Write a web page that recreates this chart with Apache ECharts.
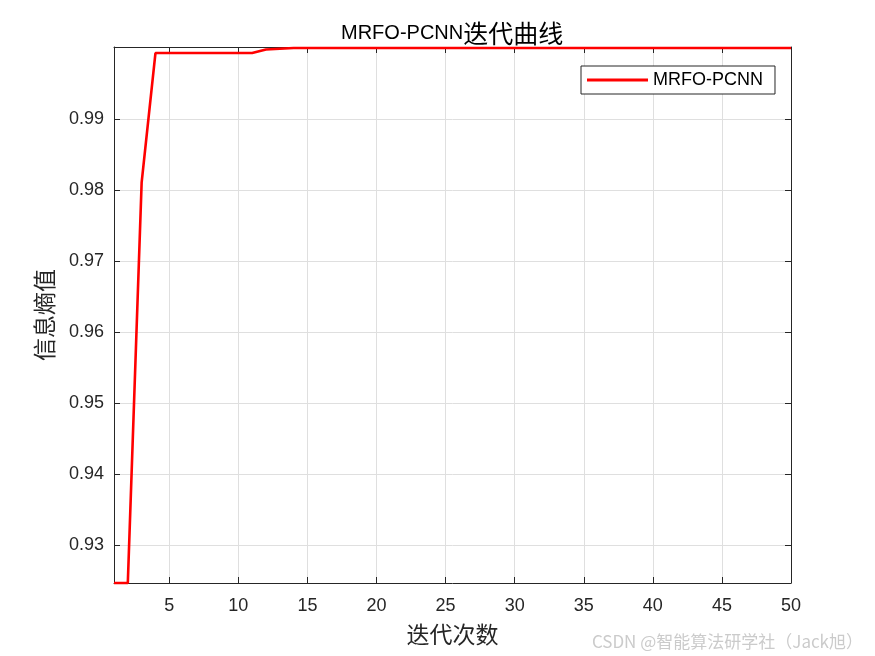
<!DOCTYPE html>
<html>
<head>
<meta charset="utf-8">
<script src="https://cdn.jsdelivr.net/npm/echarts@6/dist/echarts.min.js"></script>
<style>
  html, body { margin: 0; padding: 0; background: #fff; }
  #main { width: 875px; height: 656px; }
</style>
</head>
<body>
<div id="main"></div>
<script>
// 迭代次数 1..50
var iterations = [];
for (var i = 1; i <= 50; i++) iterations.push(i);

// 信息熵值，读自原图
var entropy = [
  0.92465, 0.92465, 0.9810, 0.99925, 0.99925, 0.99925, 0.99925, 0.99925, 0.99925, 0.99925,
  0.99925, 0.99975, 0.99986, 0.99996, 0.99996, 0.99996, 0.99996, 0.99996, 0.99996, 0.99996,
  0.99996, 0.99996, 0.99996, 0.99996, 0.99996, 0.99996, 0.99996, 0.99996, 0.99996, 0.99996,
  0.99996, 0.99996, 0.99996, 0.99996, 0.99996, 0.99996, 0.99996, 0.99996, 0.99996, 0.99996,
  0.99996, 0.99996, 0.99996, 0.99996, 0.99996, 0.99996, 0.99996, 0.99996, 0.99996, 0.99996
];

var xTicks = [5, 10, 15, 20, 25, 30, 35, 40, 45, 50];
var yTicks = [0.93, 0.94, 0.95, 0.96, 0.97, 0.98, 0.99];
var yMin = 0.92465, yMax = 1.0001;

var seriesData = iterations.map(function (x, k) { return [x, entropy[k]]; });

var axisColor = '#262626';
var gridColor = '#dfdfdf';
var latin = 'Arial, "Liberation Sans", Helvetica, sans-serif';
var cjk = '"Noto Sans CJK SC", sans-serif';

// 上/右边框上的刻度（MATLAB box on）
function mirrorAxis(base, pos, ticks) {
  return Object.assign({}, base, {
    position: pos,
    axisLine: { show: true, lineStyle: { color: axisColor } },
    axisTick: { show: true, inside: true, length: 6, customValues: ticks, lineStyle: { color: axisColor } },
    axisLabel: { show: false },
    splitLine: { show: false },
    name: ''
  });
}

var xMain = {
  type: 'value',
  min: 1, max: 50,
  position: 'bottom',
  axisLine: { show: true, lineStyle: { color: axisColor } },
  axisTick: { show: true, inside: true, length: 6, customValues: xTicks, lineStyle: { color: axisColor } },
  axisLabel: { customValues: xTicks, fontFamily: latin, fontSize: 18, color: axisColor, margin: 14 },
  splitLine: { show: true, lineStyle: { color: gridColor } },
  name: '迭代次数',
  nameLocation: 'middle',
  nameGap: 40,
  nameTextStyle: { fontFamily: cjk, fontSize: 23, color: axisColor }
};
var yMain = {
  type: 'value',
  min: yMin, max: yMax,
  position: 'left',
  axisLine: { show: true, lineStyle: { color: axisColor } },
  axisTick: { show: true, inside: true, length: 6, customValues: yTicks, lineStyle: { color: axisColor } },
  axisLabel: {
    customValues: yTicks, fontFamily: latin, fontSize: 18, color: axisColor, margin: 10,
    formatter: function (v) { return v.toFixed(2); }
  },
  splitLine: { show: true, lineStyle: { color: gridColor } },
  name: '信息熵值',
  nameLocation: 'middle',
  nameGap: 58,
  nameTextStyle: { fontFamily: cjk, fontSize: 23, color: axisColor }
};

var chart = echarts.init(document.getElementById('main'));
var option = {
  backgroundColor: '#fff',
  animation: false,
  title: {
    text: '{a|MRFO-PCNN}{b|迭代曲线}',
    left: 336,
    top: 16,
    textStyle: {
      fontWeight: 'normal',
      rich: {
        a: { fontFamily: latin, fontSize: 20, fontWeight: 'normal', color: '#000' },
        b: { fontFamily: cjk, fontSize: 25, fontWeight: 'normal', color: '#000' }
      }
    }
  },
  grid: { left: 114, right: 84, top: 47, bottom: 73 },
  legend: {
    data: [{ name: 'MRFO-PCNN', icon: 'rect' }],
    left: 581, top: 66,
    backgroundColor: '#fff',
    borderColor: axisColor, borderWidth: 1, borderRadius: 0,
    padding: [5, 12, 5, 6],
    itemWidth: 61, itemHeight: 3, itemGap: 4,
    textStyle: { fontFamily: latin, fontSize: 18, color: '#000' }
  },
  xAxis: [xMain, mirrorAxis(xMain, 'top', xTicks)],
  yAxis: [yMain, mirrorAxis(yMain, 'right', yTicks)],
  series: [{
    name: 'MRFO-PCNN',
    type: 'line',
    data: seriesData,
    symbol: 'none',
    clip: false,
    lineStyle: { color: '#ff0000', width: 2.6 },
    itemStyle: { color: '#ff0000' }
  }],
  graphic: [{
    type: 'text',
    right: 12, bottom: 6,
    style: {
      text: 'CSDN @智能算法研学社（Jack旭）',
      fill: '#cbcbcb',
      font: '17px "Noto Sans CJK SC", sans-serif'
    }
  }]
};
chart.setOption(option);
</script>
</body>
</html>
